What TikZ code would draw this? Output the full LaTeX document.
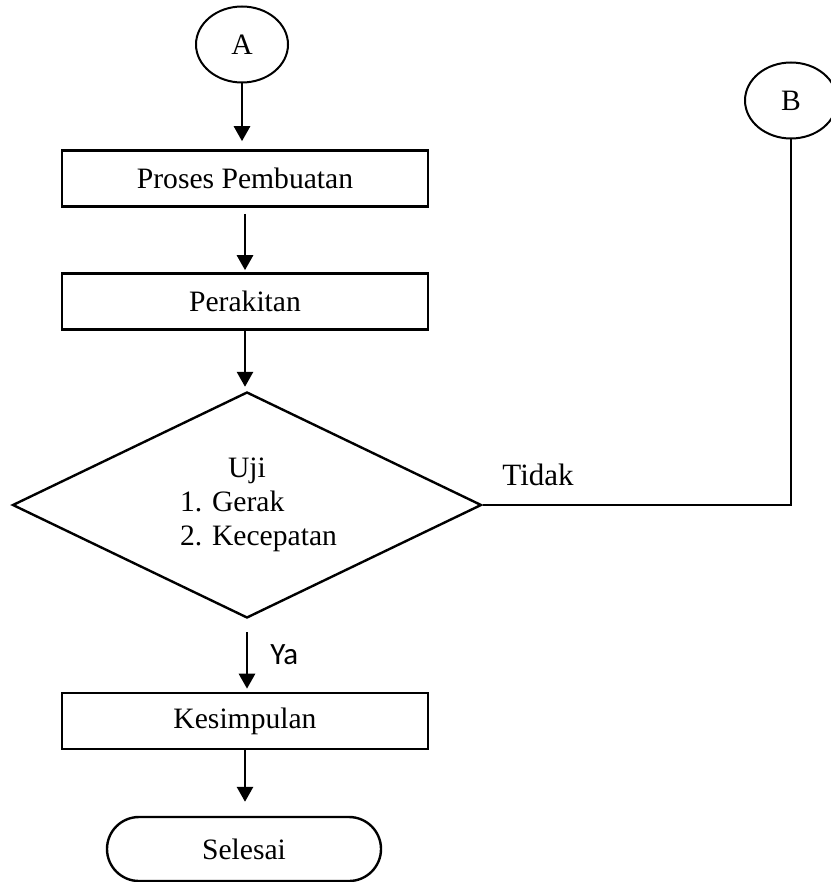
\documentclass[tikz,border=0pt]{standalone}
\usepackage{fontspec}
\setmainfont{Liberation Serif}
\newfontfamily\yafont{Carlito}
\usetikzlibrary{shapes.geometric,arrows.meta}

\begin{document}
\begin{tikzpicture}[x=0.5pt,y=-0.5pt,
  font=\fontsize{14.8}{17}\selectfont,
  box/.style={draw,line width=1.3pt,minimum width=183pt,minimum height=28pt,inner sep=0pt},
  konektor/.style={draw,ellipse,line width=1pt,minimum width=46pt,minimum height=38pt,inner sep=0pt},
  keputusan/.style={draw,diamond,line width=1.2pt,aspect=2.08,minimum width=234.5pt,minimum height=113pt,inner sep=0pt,align=center},
  terminal/.style={draw,rectangle,rounded corners=16pt,line width=1.2pt,minimum width=137pt,minimum height=32pt,inner sep=0pt},
  flow/.style={line width=1.4pt,-{Triangle[width=8pt,length=7.5pt]}},
  label/.style={anchor=base west,inner sep=0pt}]
  \def \CX {245}
  \def \LX {75pt}
  \useasboundingbox (0,0) rectangle (830,882);

  \node[konektor] (a) at (242,44.5) {A};
  \node[box] (proses) at (\CX,178.5) {Proses Pembuatan};
  \node[box] (rakit) at (\CX,301.5) {Perakitan};
  \node[keputusan] (uji) at (247,505)
  {Uji\\\hspace*{8pt}\makebox[\LX][l]{1. Gerak}\\\hspace*{8pt}\makebox[\LX][l]{2. Kecepatan}};
  \node[box] (simpul) at (\CX,721) {Kesimpulan};
  \node[terminal] (selesai) at (244,849) {Selesai};
  \node[konektor] (b) at (791,100.5) {B};

  \draw[flow,shorten >=4pt] (a.south) -- (a.south |- proses.north);
  \draw[flow,shorten <=3pt,shorten >=1pt] (proses.south) -- (rakit.north);
  \draw[flow,shorten >=2pt] (rakit.south) -- (rakit.south |- uji.north);
  \draw[flow,shorten <=6.5pt,shorten >=1.5pt] (uji.south) -- (uji.south |- simpul.north);
  \draw[flow,shorten >=7pt] (simpul.south) -- (simpul.south |- selesai.north);
  \draw[line width=1pt] (uji.east) -| (b.south);

  \node[label,font=\fontsize{15.5}{17}\selectfont] (tidak) at (502,485) {Tidak};
  \node[label,font=\yafont\fontsize{15.5}{17}\selectfont] (ya) at (270,664) {Ya};

\end{tikzpicture}
\end{document}
